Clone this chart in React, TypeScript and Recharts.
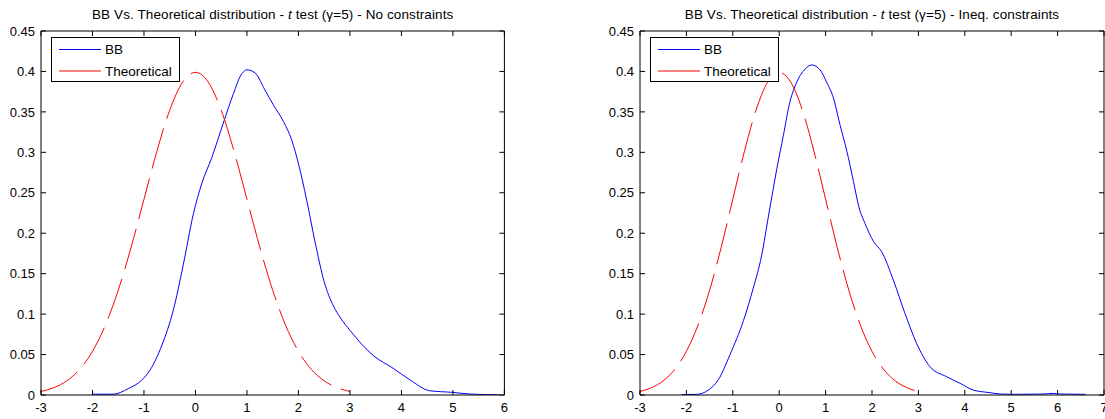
import React from 'react';
import { LineChart, Line, XAxis, YAxis, Legend } from 'recharts';

// theoretical density (same curve on both panels)
const theoX = [-3, -2.75, -2.5, -2.25, -2, -1.75, -1.5, -1.25, -1, -0.75, -0.5, -0.25, 0, 0.25, 0.5, 0.75, 1, 1.25, 1.5, 1.75, 2, 2.25, 2.5, 2.75, 3];
const theoY = [0.0044, 0.0091, 0.0175, 0.0317, 0.054, 0.0863, 0.1295, 0.1826, 0.242, 0.3011, 0.3521, 0.3867, 0.3989, 0.3867, 0.3521, 0.3011, 0.242, 0.1826, 0.1295, 0.0863, 0.054, 0.0317, 0.0175, 0.0091, 0.0044];

// BB, no constraints
const leftBBx = [-2.0, -1.6, -1.3, -1.05, -0.88, -0.65, -0.43, -0.24, -0.04, 0.12, 0.32, 0.54, 0.74, 0.87, 1.0, 1.16, 1.35, 1.51, 1.71, 1.87, 2.0, 2.16, 2.32, 2.5, 2.68, 2.82, 3.0, 3.45, 3.84, 4.17, 4.55, 4.98, 5.33, 5.9];
const leftBBy = [0.001, 0.001, 0.008, 0.018, 0.031, 0.062, 0.105, 0.16, 0.224, 0.261, 0.294, 0.336, 0.373, 0.394, 0.402, 0.398, 0.377, 0.359, 0.338, 0.315, 0.286, 0.241, 0.19, 0.14, 0.11, 0.095, 0.08, 0.049, 0.033, 0.0185, 0.0053, 0.0033, 0.0012, 0.0002];

// BB, inequality constraints
const rightBBx = [-2.1, -1.78, -1.53, -1.31, -1.06, -0.77, -0.56, -0.38, -0.22, -0.05, 0.09, 0.23, 0.38, 0.56, 0.7, 0.88, 1.02, 1.17, 1.31, 1.46, 1.6, 1.72, 1.85, 2.03, 2.21, 2.46, 2.71, 2.96, 3.25, 3.61, 3.9, 4.18, 4.54, 4.76, 5.05, 5.69, 5.91, 6.05, 6.6];
const rightBBy = [0.0005, 0.0008, 0.006, 0.019, 0.05, 0.092, 0.132, 0.172, 0.225, 0.28, 0.321, 0.362, 0.387, 0.403, 0.408, 0.402, 0.387, 0.367, 0.334, 0.301, 0.264, 0.232, 0.212, 0.19, 0.177, 0.142, 0.101, 0.064, 0.035, 0.0226, 0.0144, 0.0062, 0.0029, 0.0012, 0.0008, 0.0012, 0.002, 0.0012, 0.0008];

const yTicks = [0, 0.05, 0.1, 0.15, 0.2, 0.25, 0.3, 0.35, 0.4, 0.45];
const leftXTicks = [-3, -2, -1, 0, 1, 2, 3, 4, 5, 6];
const rightXTicks = [-3, -2, -1, 0, 1, 2, 3, 4, 5, 6, 7];

const BB_COLOR = '#0000ff';
const THEO_COLOR = '#ff0000';
const seriesColors: Record<string, string> = { BB: BB_COLOR, Theoretical: THEO_COLOR };

const FONT = '"Liberation Sans", Arial, Helvetica, sans-serif';
const H = 419;
const PLOT_TOP = 31;
const PLOT_BOTTOM = 395;

const zip = (xs: number[], ys: number[]) => xs.map((x, i) => ({ x, y: ys[i] }));
const theo = zip(theoX, theoY);

const noLabel = () => <g />;

const LegendBox = ({ payload }: any) => (
  <svg width={130} height={46} style={{ display: 'block' }}>
    <rect x={0.5} y={0.5} width={128} height={44} fill="#fff" stroke="#000" strokeWidth={1} />
    {(payload || []).map((p: any, i: number) => {
      const cy = 12.5 + i * 21.5;
      return (
        <g key={p.value}>
          <line x1={8} x2={50} y1={cy} y2={cy} stroke={seriesColors[p.value] || p.color} strokeWidth={1} />
          <text x={54} y={cy + 4.8} fontSize={13.5} fontFamily={FONT} fill="#000">{p.value}</text>
        </g>
      );
    })}
  </svg>
);

type PanelProps = {
  left: number;
  width: number;
  plotLeft: number;
  plotRight: number;
  xDomain: [number, number];
  xTicks: number[];
  bb: { x: number; y: number }[];
  subtitle: string;
  legendLeft: number;
};

const Panel = ({ left, width, plotLeft, plotRight, xDomain, xTicks, bb, subtitle, legendLeft }: PanelProps) => (
  <div style={{ position: 'absolute', left, top: 0 }}>
    <LineChart width={width} height={H} margin={{ top: 0, right: 0, bottom: 0, left: 0 }} style={{ fontFamily: FONT }}>
      <XAxis
        xAxisId="b"
        type="number"
        dataKey="x"
        domain={xDomain}
        ticks={xTicks}
        allowDataOverflow
        height={H - PLOT_BOTTOM}
        tickSize={-5}
        tickMargin={12.5}
        stroke="#000"
        tick={{ fontSize: 13, fill: '#000', fontFamily: FONT }}
        interval={0}
      />
      <XAxis
        xAxisId="t"
        orientation="top"
        type="number"
        dataKey="x"
        domain={xDomain}
        ticks={xTicks}
        allowDataOverflow
        height={PLOT_TOP}
        tickSize={-5}
        stroke="#000"
        tick={noLabel}
        interval={0}
      />
      <YAxis
        yAxisId="l"
        type="number"
        domain={[0, 0.45]}
        ticks={yTicks}
        allowDataOverflow
        width={plotLeft}
        tickSize={-5}
        tickMargin={11}
        stroke="#000"
        tick={{ fontSize: 13, fill: '#000', fontFamily: FONT }}
        interval={0}
      />
      <YAxis
        yAxisId="r"
        orientation="right"
        type="number"
        domain={[0, 0.45]}
        ticks={yTicks}
        allowDataOverflow
        width={width - plotRight}
        tickSize={-5}
        stroke="#000"
        tick={noLabel}
        interval={0}
      />
      <Legend
        layout="vertical"
        align="center"
        verticalAlign="middle"
        wrapperStyle={{ left: legendLeft - left, top: 37, width: 130, height: 46 }}
        content={LegendBox}
      />
      <Line
        xAxisId="b"
        yAxisId="l"
        data={bb}
        dataKey="y"
        name="BB"
        type="monotone"
        stroke={BB_COLOR}
        strokeWidth={1}
        dot={false}
        activeDot={false}
        isAnimationActive={false}
      />
      <Line
        xAxisId="b"
        yAxisId="l"
        data={theo}
        dataKey="y"
        name="Theoretical"
        type="monotone"
        stroke={THEO_COLOR}
        strokeWidth={1}
        strokeDasharray="42 10"
        dot={false}
        activeDot={false}
        isAnimationActive={false}
      />
      <text x={(plotLeft + plotRight) / 2} y={18.5} textAnchor="middle" fontSize={13.5} letterSpacing={0.1} fontFamily={FONT} fill="#000">
        BB Vs. Theoretical distribution - <tspan fontStyle="italic">t</tspan> test (γ=5) - {subtitle}
      </text>
    </LineChart>
  </div>
);

export default function App() {
  return (
    <div style={{ position: 'absolute', left: 0, top: 0, width: 1105, height: H, background: '#fff', overflow: 'hidden' }}>
      <Panel
        left={0}
        width={552}
        plotLeft={41}
        plotRight={504.4}
        xDomain={[-3, 6]}
        xTicks={leftXTicks}
        bb={zip(leftBBx, leftBBy)}
        subtitle="No constraints"
        legendLeft={51}
      />
      <Panel
        left={552}
        width={553}
        plotLeft={88}
        plotRight={552}
        xDomain={[-3, 7]}
        xTicks={rightXTicks}
        bb={zip(rightBBx, rightBBy)}
        subtitle="Ineq. constraints"
        legendLeft={650}
      />
    </div>
  );
}
